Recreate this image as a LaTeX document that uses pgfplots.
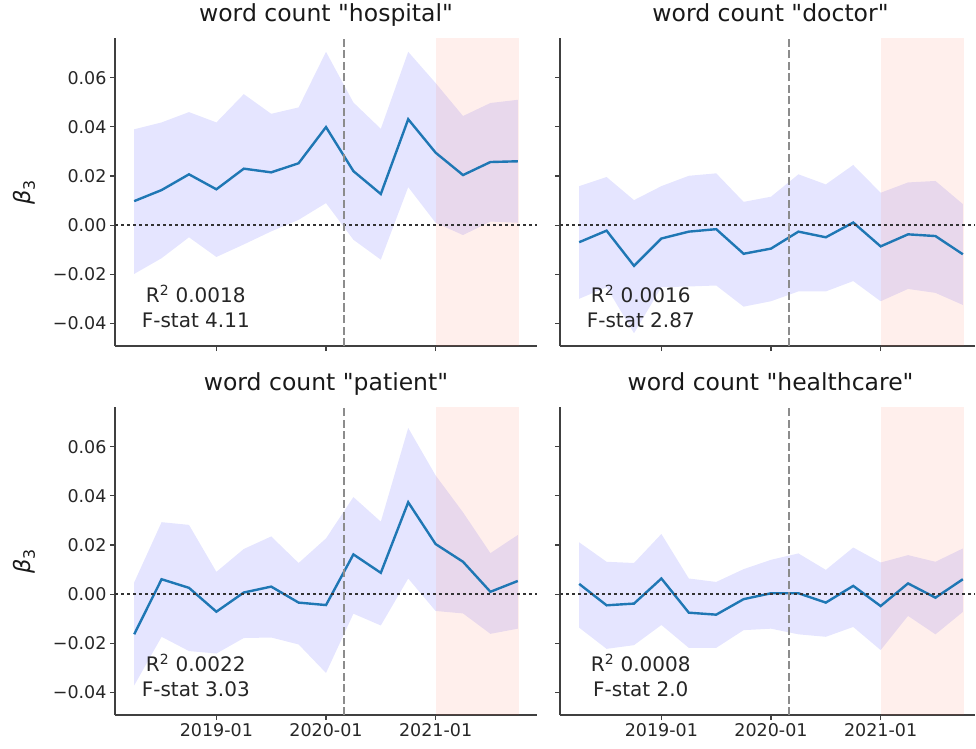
\documentclass[border=0pt]{standalone}
\usepackage{pgfplots}
\pgfplotsset{compat=1.18}
\usepackage{pgfplotstable}
\usepgfplotslibrary{fillbetween}
\usepackage{fontspec}
\setmainfont{DejaVu Sans}[Ligatures=TeXOff]
\definecolor{lineblue}{HTML}{1F77B4}
\definecolor{tomatoc}{RGB}{255,99,71}

\pgfplotstableread{
x m lo hi
2018.25 0.0098 -0.0198 0.0390
2018.50 0.0143 -0.0134 0.0418
2018.75 0.0207 -0.0049 0.0460
2019.00 0.0146 -0.0129 0.0418
2019.25 0.0230 -0.0078 0.0533
2019.50 0.0215 -0.0025 0.0453
2019.75 0.0252 0.0022 0.0479
2020.00 0.0399 0.0090 0.0705
2020.25 0.0220 -0.0059 0.0499
2020.50 0.0127 -0.0140 0.0392
2020.75 0.0431 0.0155 0.0705
2021.00 0.0295 0.0010 0.0578
2021.25 0.0204 -0.0040 0.0444
2021.50 0.0257 0.0015 0.0497
2021.75 0.0260 0.0010 0.0510
}\hosp

\pgfplotstableread{
x m lo hi
2018.25 -0.0069 -0.0299 0.0159
2018.50 -0.0022 -0.0252 0.0196
2018.75 -0.0165 -0.0439 0.0102
2019.00 -0.0054 -0.0252 0.0159
2019.25 -0.0026 -0.0249 0.0201
2019.50 -0.0016 -0.0245 0.0211
2019.75 -0.0116 -0.0331 0.0095
2020.00 -0.0095 -0.0309 0.0116
2020.25 -0.0026 -0.0269 0.0207
2020.50 -0.0049 -0.0269 0.0166
2020.75 0.0011 -0.0227 0.0245
2021.00 -0.0086 -0.0309 0.0132
2021.25 -0.0037 -0.0259 0.0174
2021.50 -0.0044 -0.0275 0.0180
2021.75 -0.0118 -0.0324 0.0086
}\doct

\pgfplotstableread{
x m lo hi
2018.25 -0.0163 -0.0371 0.0048
2018.50 0.0061 -0.0173 0.0293
2018.75 0.0026 -0.0231 0.0282
2019.00 -0.0071 -0.0241 0.0091
2019.25 0.0007 -0.0178 0.0184
2019.50 0.0031 -0.0176 0.0235
2019.75 -0.0034 -0.0204 0.0127
2020.00 -0.0044 -0.0320 0.0227
2020.25 0.0162 -0.0079 0.0395
2020.50 0.0087 -0.0127 0.0295
2020.75 0.0374 0.0064 0.0676
2021.00 0.0204 -0.0068 0.0483
2021.25 0.0132 -0.0078 0.0333
2021.50 0.0010 -0.0161 0.0167
2021.75 0.0054 -0.0140 0.0241
}\pati

\pgfplotstableread{
x m lo hi
2018.25 0.0042 -0.0136 0.0211
2018.50 -0.0045 -0.0222 0.0132
2018.75 -0.0038 -0.0207 0.0127
2019.00 0.0064 -0.0125 0.0245
2019.25 -0.0075 -0.0218 0.0064
2019.50 -0.0083 -0.0218 0.0050
2019.75 -0.0020 -0.0146 0.0102
2020.00 0.0004 -0.0140 0.0140
2020.25 0.0004 -0.0163 0.0166
2020.50 -0.0034 -0.0173 0.0099
2020.75 0.0034 -0.0133 0.0190
2021.00 -0.0048 -0.0227 0.0129
2021.25 0.0044 -0.0088 0.0159
2021.50 -0.0014 -0.0163 0.0132
2021.75 0.0061 -0.0072 0.0186
}\heal

\pgfplotsset{
  panel/.style={
    scale only axis, width=422pt, height=307.7pt,
    anchor=south west,
    xmin=2018.075, xmax=2021.925, ymin=-0.0491, ymax=0.0760,
    scaled y ticks=false, scaled x ticks=false,
    axis lines=left,
    axis line style={-, black!75, line width=1.1pt},
    tick align=outside, major tick length=5pt,
    tick style={black!75, line width=1.1pt},
    xtick={2019,2020,2021}, ytick={-0.04,-0.02,0,0.02,0.04,0.06},
    xticklabels={2019-01,2020-01,2021-01},
    yticklabels={−0.04,−0.02,0.00,0.02,0.04,0.06},
    /pgf/number format/assume math mode=true,
    tick label style={font=\fontsize{17.5}{20}\selectfont, text=black!85},
    title style={font=\fontsize{23.5}{27}\selectfont, text=black!90,
      at={(axis description cs:0.5,1)}, anchor=base, yshift=11pt},
    ylabel style={font=\fontsize{22.5}{26}\selectfont, text=black!90,
      at={(axis description cs:-0.2156,0.5)}, anchor=center},
  },
  rightpanel/.style={width=415pt, xmax=2021.861, yticklabels={},
    title style={at={(axis description cs:0.5072,1)}}},
}

\newcommand{\panelbody}[4]{%
  \fill[tomatoc, fill opacity=0.1] (axis cs:2021,-0.0491) rectangle (axis cs:2021.76,0.0760);
  \addplot[draw=none, name path=hi, forget plot] table[x=x,y=hi]{#1};
  \addplot[draw=none, name path=lo, forget plot] table[x=x,y=lo]{#1};
  \addplot[fill=blue, fill opacity=0.1, draw=none, forget plot] fill between[of=hi and lo];
  \addplot[lineblue, line width=2.4pt, forget plot] table[x=x,y=m]{#1};
  \draw[black!80, line width=2.5pt, dash pattern=on 2.5pt off 3.5pt] (axis cs:2018.075,0) -- (axis cs:#4,0);
  \draw[black!45, line width=2.6pt, dash pattern=on 8pt off 3.5pt] (axis cs:2020.164,-0.0491) -- (axis cs:2020.164,0.0760);
  \node[align=center, font=\fontsize{20}{25}\selectfont, text=black!85] at (axis cs:2018.812,-0.0330) {R\textsuperscript{2} #2\\F-stat #3};
}

\begin{document}
\begin{tikzpicture}

\begin{axis}[panel, at={(115pt,402pt)}, xticklabels={},
  title={word count "hospital"}, ylabel={{\itshape β}\textsubscript{3}}]
\panelbody{\hosp}{0.0018}{4.11}{2021.925}
\end{axis}

\begin{axis}[panel, rightpanel, at={(560pt,402pt)}, xticklabels={},
  title={word count "doctor"}]
\panelbody{\doct}{0.0016}{2.87}{2021.861}
\end{axis}

\begin{axis}[panel, at={(115pt,33pt)},
  title={word count "patient"}, ylabel={{\itshape β}\textsubscript{3}}]
\panelbody{\pati}{0.0022}{3.03}{2021.925}
\end{axis}

\begin{axis}[panel, rightpanel, at={(560pt,33pt)},
  title={word count "healthcare"}]
\panelbody{\heal}{0.0008}{2.0}{2021.861}
\end{axis}

\path (0pt,0pt) rectangle (976pt,748pt);
\end{tikzpicture}
\end{document}
